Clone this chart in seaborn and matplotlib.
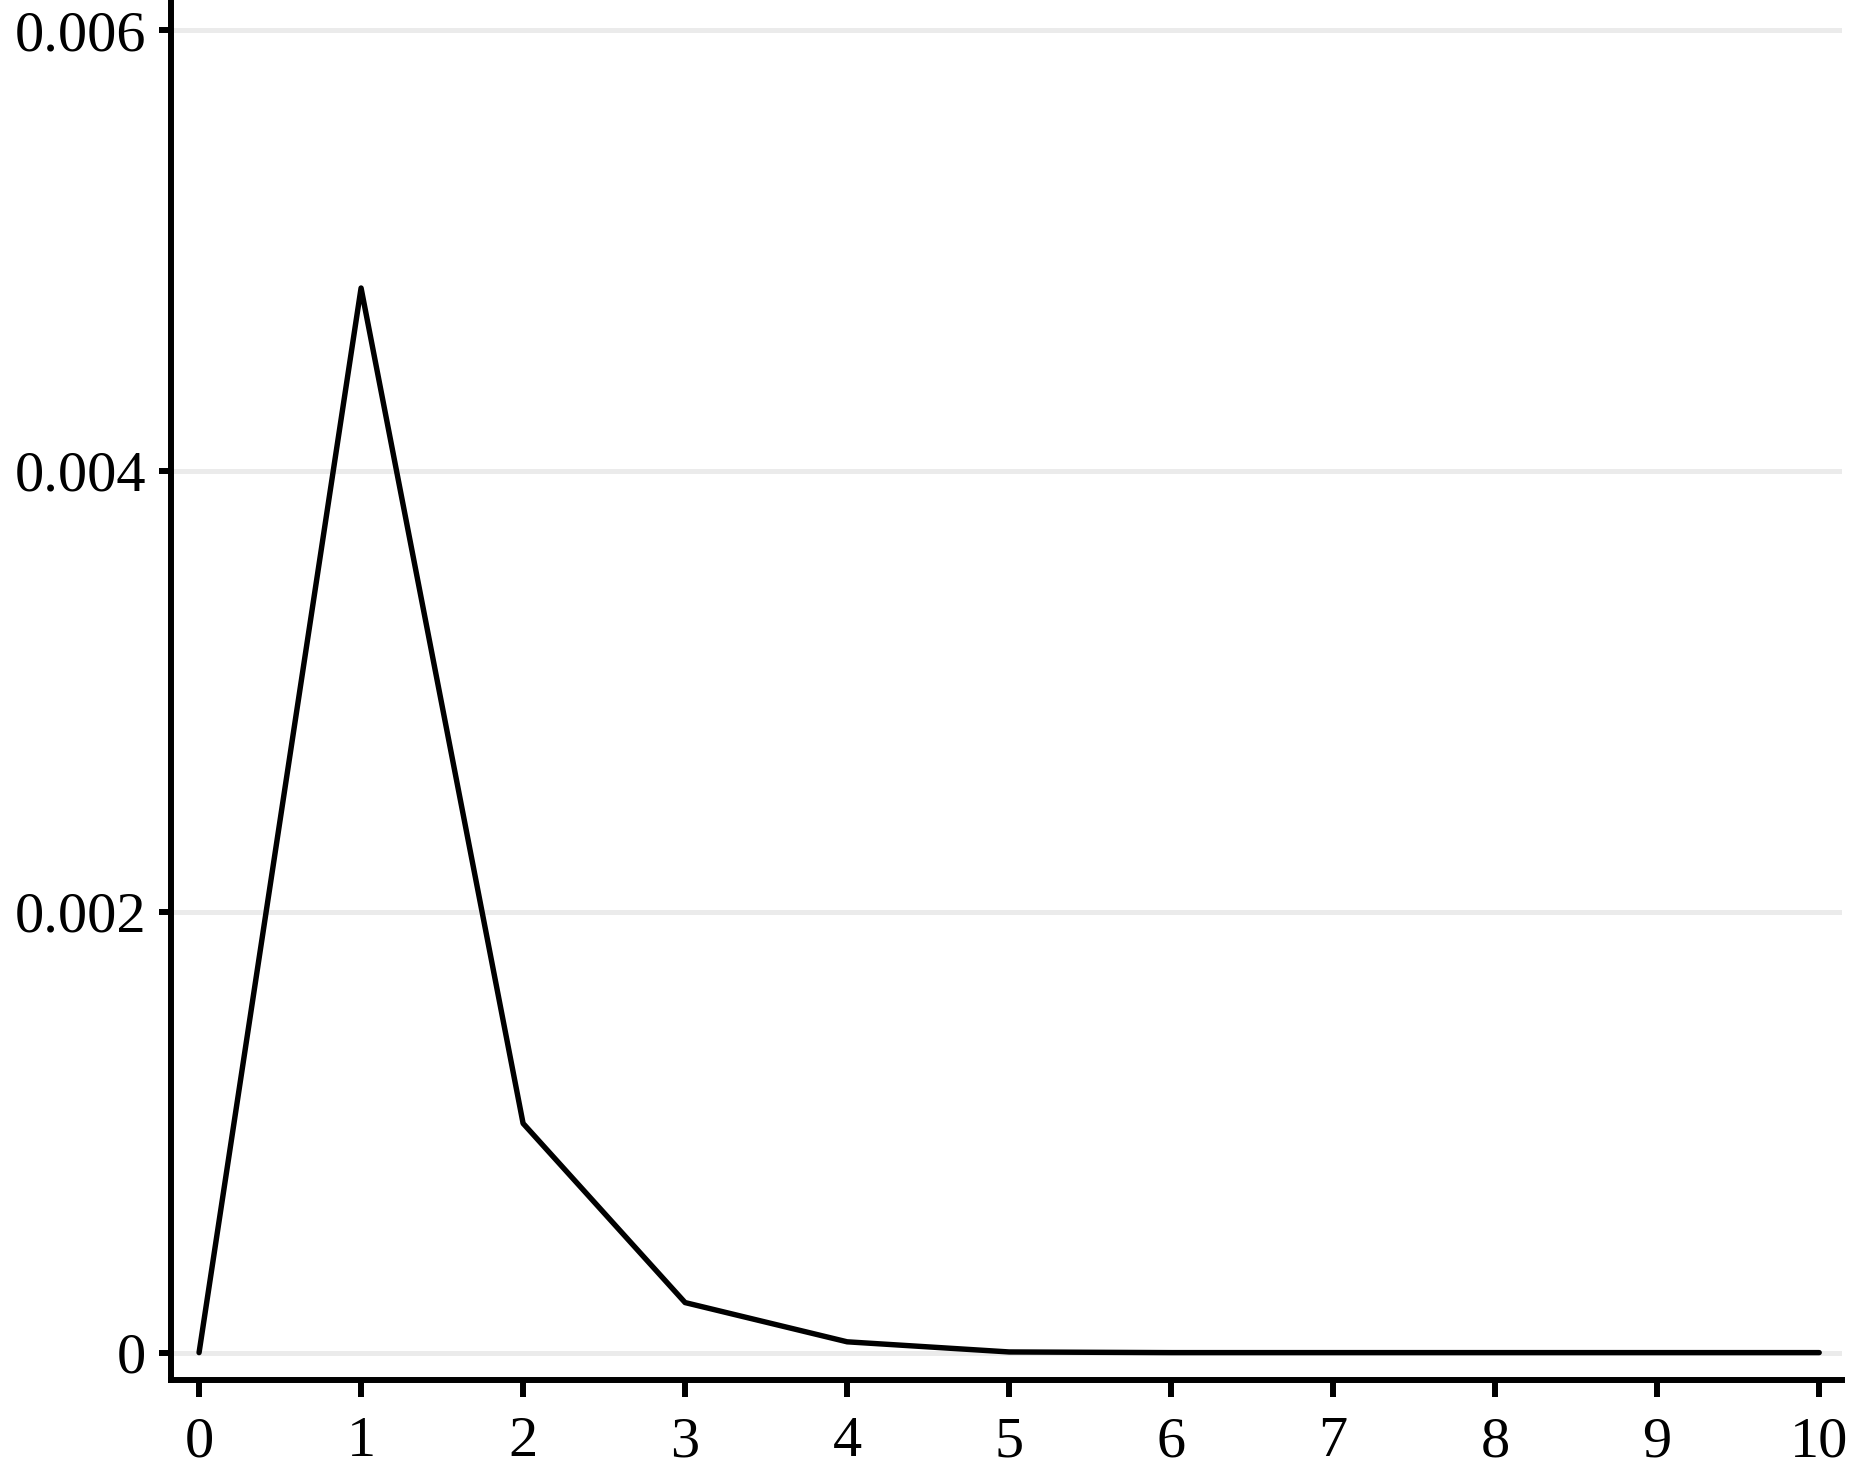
import numpy as np
import pandas as pd
import matplotlib
matplotlib.use("Agg")
import matplotlib.pyplot as plt
import seaborn as sns

# values
x_vals = [0, 1, 2, 3, 4, 5, 6, 7, 8, 9, 10]
y_vals = [0.0, 0.00483, 0.00104, 0.000227, 0.000049, 0.000003, 0.0,
          0.0, 0.0, 0.0, 0.0]
y_ticks = [0, 0.002, 0.004, 0.006]
y_tick_labels = ["0", "0.002", "0.004", "0.006"]

df = pd.DataFrame({"x": x_vals, "y": y_vals})

sns.set_style("white")
plt.rcParams["font.family"] = ["Liberation Serif", "DejaVu Serif"]

fig = plt.figure(figsize=(18.53, 14.66), dpi=100)
ax = fig.add_axes([0.0923, 0.0587, 0.9017, 0.94])

sns.lineplot(data=df, x="x", y="y", color="black", linewidth=3.9, ax=ax,
             zorder=3)

ax.set_xlim(-0.173, 10.14)
ax.set_ylim(-0.000124, 0.006128)
ax.set_xticks(x_vals)
ax.set_yticks(y_ticks)
ax.set_yticklabels(y_tick_labels)
ax.set_xlabel("")
ax.set_ylabel("")

ax.yaxis.grid(True, color="#EBEBEB", linewidth=3.6, zorder=0)
ax.xaxis.grid(False)
ax.set_axisbelow(True)

for side in ["top", "right"]:
    ax.spines[side].set_visible(False)
for side in ["left", "bottom"]:
    ax.spines[side].set_color("black")
    ax.spines[side].set_linewidth(4.3)

ax.tick_params(axis="x", length=12, width=4.3, pad=14, labelsize=42,
               colors="black", bottom=True)
ax.tick_params(axis="y", length=9, width=4.3, pad=9, labelsize=42,
               colors="black", left=True)

fig.savefig("out.png", dpi=100)
